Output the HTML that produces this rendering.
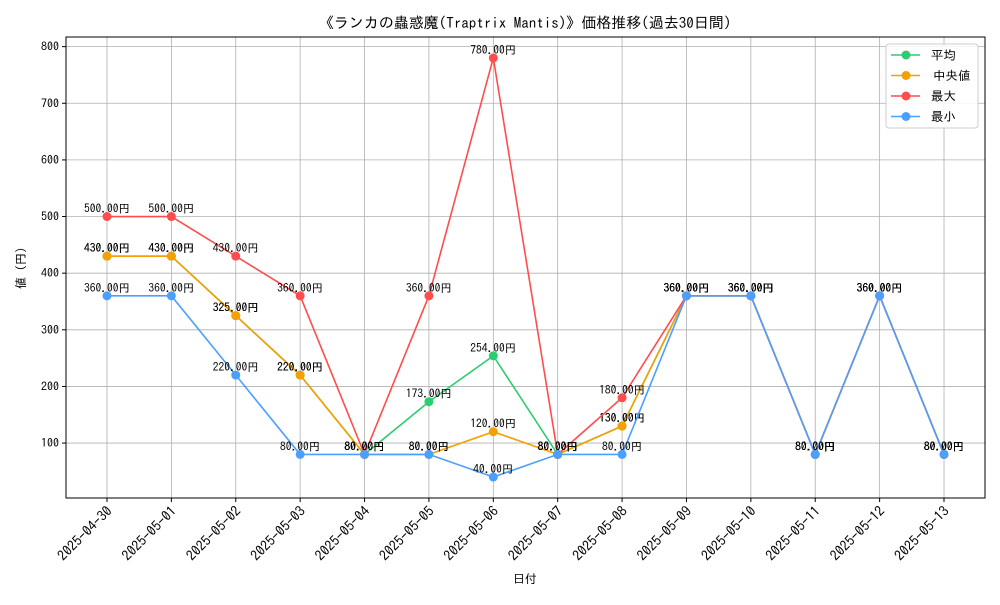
<!DOCTYPE html>
<html><head><meta charset="utf-8"><style>
body{margin:0;background:#fff}
svg text{font-family:"IPAGothic","Liberation Sans","Noto Sans CJK JP",sans-serif;}
</style></head><body>
<svg id="c" width="1000" height="600" xmlns="http://www.w3.org/2000/svg">
<rect width="1000" height="600" fill="#fff"/>
<text x="525" y="28" font-size="15" text-anchor="middle">《ランカの蟲惑魔(Traptrix Mantis)》価格推移(過去30日間)</text>
<text x="525" y="583" font-size="12" text-anchor="middle">日付</text>
<text x="0" y="0" font-size="12" text-anchor="middle" transform="translate(25,268) rotate(-90)">値 (円)</text>
<g id="grid"></g><g id="series"></g><g id="axes"></g>
<g>
<rect x="886" y="44" width="92" height="84" rx="3" fill="#fff" fill-opacity="0.85" stroke="#ccc"/>
</g><g id="legend"></g>
</svg>
<script>
const categories=["2025-04-30","2025-05-01","2025-05-02","2025-05-03","2025-05-04","2025-05-05","2025-05-06","2025-05-07","2025-05-08","2025-05-09","2025-05-10","2025-05-11","2025-05-12","2025-05-13"];
const avgValues=[430,430,325,220,80,173,254,80,130,360,360,80,360,80];
const medianValues=[430,430,325,220,80,80,120,80,130,360,360,80,360,80];
const maxValues=[500,500,430,360,80,360,780,80,180,360,360,80,360,80];
const minValues=[360,360,220,80,80,80,40,80,80,360,360,80,360,80];
const yTicks=[100,200,300,400,500,600,700,800];
const seriesNames=["平均","中央値","最大","最小"];
const seriesColors=["#2ecc71","#f5a000","#ff4d4d","#4d9fff"];
const NS="http://www.w3.org/2000/svg";
const L=66,R=985,T=37,B=498;
const all=[].concat(avgValues,medianValues,maxValues,minValues);
const dmin=Math.min(...all),dmax=Math.max(...all),pad=(dmax-dmin)*0.05;
const y0=dmin-pad,y1=dmax+pad;
const n=categories.length,xpad=(R-L)*0.0446;
const x=i=>L+xpad+i*((R-L-2*xpad)/(n-1));
const y=v=>B-(v-y0)/(y1-y0)*(B-T);
function el(t,a,p){const e=document.createElementNS(NS,t);for(const k in a)e.setAttribute(k,a[k]);p.appendChild(e);return e;}
const grid=document.getElementById('grid'),axes=document.getElementById('axes'),ser=document.getElementById('series'),leg=document.getElementById('legend');
categories.forEach((c,i)=>{
 const g=el('line',{x1:x(i),x2:x(i),y1:T,y2:B,stroke:'#b0b0b0','stroke-width':0.8},grid);
 
 el('line',{x1:x(i),x2:x(i),y1:B,y2:B+4,stroke:'#000'},axes);
 const t=el('text',{x:x(i)+6,y:B+14,'font-size':14,'text-anchor':'end',transform:`rotate(-45 ${x(i)+6} ${B+14})`},axes);
 t.textContent=c;
});
yTicks.forEach(v=>{
 const g=el('line',{x1:L,x2:R,y1:y(v),y2:y(v),stroke:'#b0b0b0','stroke-width':0.8},grid);
 
 el('line',{x1:L-4,x2:L,y1:y(v),y2:y(v),stroke:'#000'},axes);
 const t=el('text',{x:L-7,y:y(v)+4,'font-size':12,'text-anchor':'end'},axes);
 t.textContent=v;
});
const fr=el('rect',{x:L,y:T,width:R-L,height:B-T,fill:'none',stroke:'#000','stroke-width':1},axes);

[avgValues,medianValues,maxValues,minValues].forEach((vals,s)=>{
 const g=el('g',{},ser);
 const p=el('polyline',{points:vals.map((v,i)=>x(i)+','+y(v)).join(' '),fill:'none',stroke:seriesColors[s],'stroke-width':1.6},g);
 
 vals.forEach((v,i)=>{
  const c=el('circle',{cx:x(i),cy:y(v),r:4.5,fill:seriesColors[s]},g);
  
  const t=el('text',{x:x(i),y:y(v)-4,'font-size':11.5,'text-anchor':'middle',fill:'#000'},g);
  t.textContent=v.toFixed(2)+'円';
 });
});
seriesNames.forEach((nm,s)=>{
 const yy=55+s*20.5;
 const g=el('g',{},leg);
 el('line',{x1:891,x2:920,y1:yy,y2:yy,stroke:seriesColors[s],'stroke-width':1.6},g);
 el('circle',{cx:906,cy:yy,r:4.5,fill:seriesColors[s]},g);
 const t=el('text',{x:s==1?933:931,y:yy+4.5,'font-size':12.5},g);t.textContent=nm;
});
</script>
</body></html>
